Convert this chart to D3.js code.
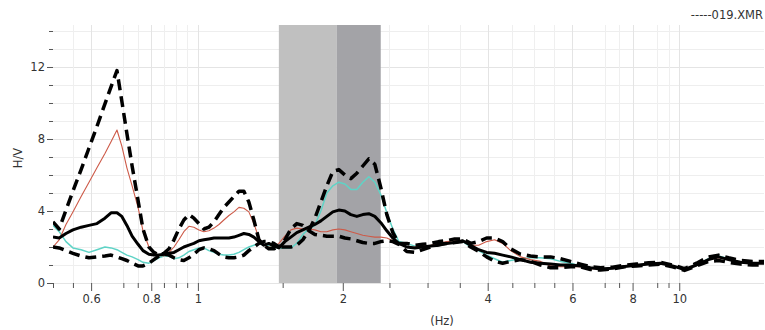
<!DOCTYPE html>
<html>
<head>
<meta charset="utf-8">
<script src="https://cdn.jsdelivr.net/npm/d3@7"></script>
<style>
  html, body { margin: 0; padding: 0; background: #fff; }
  svg { display: block; font-family: "DejaVu Sans", Verdana, sans-serif; }
</style>
</head>
<body>
<svg id="chart" width="765" height="330"></svg>
<script>
// ---------- data ----------
const freq = [0.50,0.515,0.532,0.550,0.572,0.594,0.617,0.641,0.660,0.679,0.695,0.712,0.730,0.751,0.769,0.791,0.810,0.830,0.850,0.871,0.892,0.913,0.935,0.958,0.981,1.005,1.029,1.054,1.080,1.106,1.132,1.160,1.188,1.217,1.246,1.276,1.307,1.339,1.371,1.404,1.438,1.473,1.516,1.560,1.605,1.652,1.700,1.750,1.801,1.853,1.907,1.962,2.020,2.078,2.139,2.201,2.265,2.331,2.399,2.469,2.541,2.615,2.716,2.822,2.932,3.046,3.165,3.288,3.416,3.549,3.687,3.831,3.980,4.135,4.296,4.463,4.682,4.910,5.151,5.403,5.667,5.944,6.235,6.540,6.860,7.270,7.700,8.155,8.637,9.147,9.685,10.257,10.863,11.504,12.067,12.657,13.405,14.196,15.0];

const hvMean = [2.55,2.5,2.75,2.95,3.1,3.2,3.3,3.6,3.9,3.9,3.7,3.2,2.6,2.15,1.8,1.6,1.55,1.55,1.6,1.65,1.7,1.85,2.0,2.1,2.2,2.35,2.4,2.45,2.5,2.5,2.5,2.5,2.55,2.65,2.75,2.7,2.55,2.3,2.1,2.2,2.05,1.95,2.3,2.55,2.8,2.95,3.1,3.25,3.45,3.7,3.95,4.05,4.0,3.8,3.7,3.8,3.85,3.7,3.35,2.9,2.5,2.2,2.0,1.95,2.0,2.05,2.1,2.2,2.25,2.35,2.1,1.85,1.7,1.65,1.55,1.45,1.3,1.15,1.1,1.05,1.0,1.0,0.95,0.85,0.78,0.82,0.92,0.98,1.05,1.1,0.95,0.75,1.0,1.3,1.45,1.3,1.15,1.1,1.1];

const hvPlus = [3.4,3.0,4.05,5.1,6.3,7.5,8.7,9.95,10.9,11.8,10.1,8.3,6.5,4.6,3.0,2.0,1.7,1.55,1.65,1.9,2.4,3.0,3.5,3.8,3.6,3.3,3.0,3.1,3.4,3.8,4.2,4.5,4.8,5.1,5.1,4.5,3.5,2.4,2.1,1.9,1.9,2.0,2.0,2.0,2.1,2.4,2.9,3.6,4.5,5.4,6.2,6.3,6.0,5.8,6.1,6.5,6.9,6.6,5.3,3.8,2.8,2.2,2.2,2.1,2.15,2.2,2.3,2.35,2.45,2.45,2.2,2.3,2.5,2.5,2.3,1.9,1.6,1.5,1.45,1.45,1.35,1.2,1.05,0.9,0.85,0.88,0.98,1.05,1.12,1.15,1.0,0.8,1.1,1.45,1.55,1.4,1.25,1.2,1.2];

const hvMinus = [2.0,1.95,1.8,1.65,1.5,1.4,1.45,1.5,1.55,1.45,1.35,1.25,1.1,0.95,0.95,1.1,1.3,1.5,1.6,1.55,1.4,1.3,1.25,1.4,1.6,1.85,1.95,1.9,1.8,1.6,1.45,1.4,1.4,1.45,1.55,1.8,2.0,2.2,2.3,2.3,2.2,2.0,2.4,3.0,3.3,3.2,2.9,2.7,2.65,2.6,2.6,2.6,2.5,2.45,2.35,2.25,2.2,2.2,2.3,2.35,2.3,2.15,1.75,1.7,1.85,2.0,2.15,2.2,2.25,2.3,2.0,1.75,1.45,1.2,1.1,1.2,1.3,1.2,1.0,0.85,0.85,0.9,0.9,0.75,0.72,0.78,0.9,0.95,1.0,1.05,0.9,0.7,0.95,1.2,1.25,1.15,1.05,1.0,1.0];

const hvRed = [2.0,2.4,3.25,3.95,4.8,5.6,6.4,7.2,7.85,8.5,7.6,6.4,5.4,4.2,2.9,2.0,1.65,1.55,1.5,1.7,2.0,2.4,2.85,3.15,3.1,2.95,2.85,2.9,3.05,3.25,3.5,3.75,3.95,4.2,4.15,3.95,3.3,2.5,2.1,2.0,2.0,2.2,2.6,2.95,3.05,3.0,3.0,2.95,2.85,2.85,2.95,3.0,2.95,2.85,2.75,2.65,2.6,2.55,2.55,2.5,2.35,2.2,2.0,2.0,2.05,2.1,2.2,2.3,2.35,2.3,2.1,2.1,2.3,2.4,2.2,1.8,1.45,1.3,1.2,0.95,0.9,0.9,0.9,0.8,0.78,0.82,0.92,0.98,1.05,1.1,0.95,0.75,1.0,1.3,1.4,1.3,1.15,1.1,1.1];

const hvCyan = [3.2,2.85,2.3,1.95,1.85,1.7,1.85,2.0,1.95,1.85,1.7,1.55,1.45,1.3,1.15,1.1,1.25,1.4,1.5,1.5,1.35,1.4,1.55,1.75,1.85,1.95,1.95,1.8,1.7,1.6,1.55,1.55,1.6,1.7,1.85,2.0,2.1,2.2,2.1,2.05,2.0,1.95,1.95,1.95,2.2,2.7,3.0,3.2,4.0,5.0,5.4,5.6,5.5,5.2,5.2,5.6,5.9,5.6,4.9,3.9,3.0,2.3,2.2,2.05,2.0,2.05,2.15,2.25,2.3,2.3,2.0,1.8,1.55,1.35,1.15,1.25,1.35,1.4,1.4,1.35,1.2,1.1,0.95,0.85,0.8,0.82,0.92,0.98,1.05,1.1,0.95,0.75,1.0,1.35,1.5,1.35,1.15,1.1,1.1];

const xMajorTicks = [0.6, 0.8, 1, 2, 4, 6, 8, 10];
const xMinorTicks = [0.5, 0.55, 0.7, 0.75, 0.85, 0.9, 0.95, 1.5, 2.5, 3, 3.5, 4.5, 5, 5.5, 7, 7.5, 9, 9.5];
const yMajorTicks = [0, 4, 8, 12];
const yMinorTicks = [1, 2, 3, 5, 6, 7, 9, 10, 11, 13, 14];
const bandStart = [1.473, 1.944];
const bandEnd = [1.944, 2.398];
const titleText = "-----019.XMR";
const xLabel = "(Hz)";
const yLabel = "H/V";

// ---------- layout ----------
const svg = d3.select("#chart");
const pLeft = 53, pRight = 764, pTop = 25, pBottom = 283;
const x = d3.scaleLog().domain([0.5, 15]).range([pLeft, pRight]);
const y = d3.scaleLinear().domain([0, 14.333]).range([pBottom, pTop]);

// gridlines
const grid = svg.append("g");
grid.selectAll("line.hg").data(yMajorTicks.concat(yMinorTicks)).join("line")
  .attr("x1", pLeft).attr("x2", pRight)
  .attr("y1", d => Math.round(y(d)) + 0.5).attr("y2", d => Math.round(y(d)) + 0.5)
  .attr("stroke", d => yMajorTicks.includes(d) ? "#e4e4e4" : "#eeeeee").attr("stroke-width", 1);
grid.selectAll("line.vg").data(xMajorTicks.concat(xMinorTicks).filter(d => d > 0.5)).join("line")
  .attr("x1", d => Math.round(x(d)) + 0.5).attr("x2", d => Math.round(x(d)) + 0.5)
  .attr("y1", pTop).attr("y2", pBottom)
  .attr("stroke", d => xMajorTicks.includes(d) ? "#e4e4e4" : "#efefef").attr("stroke-width", 1);

// bands
const bandColors = ["#c0c0c0", "#a3a3a7"];
svg.append("g").selectAll("rect").data(bandStart.map((s, i) => ({ s, e: bandEnd[i], c: bandColors[i] }))).join("rect")
  .attr("x", d => x(d.s)).attr("width", d => x(d.e) - x(d.s))
  .attr("y", pTop).attr("height", pBottom - pTop)
  .attr("fill", d => d.c);

// axes
const xAxisMajor = d3.axisBottom(x).tickValues(xMajorTicks).tickSize(8).tickPadding(4)
  .tickFormat(d => String(d));
const xAxisMinor = d3.axisBottom(x).tickValues(xMinorTicks).tickSize(5).tickFormat("");
const gxm = svg.append("g").attr("transform", `translate(0,${pBottom})`).call(xAxisMinor);
const gx = svg.append("g").attr("transform", `translate(0,${pBottom})`).call(xAxisMajor);
[gx, gxm].forEach(g => {
  g.select(".domain").remove();
  g.selectAll(".tick line").attr("stroke", "#555");
});
gx.selectAll("text").attr("fill", "#333").style("font-size", "11.5px").style("font-family", "DejaVu Sans, sans-serif");

const yAxisMajor = d3.axisLeft(y).tickValues(yMajorTicks).tickSize(6).tickPadding(2).tickFormat(d => String(d));
const yAxisMinor = d3.axisLeft(y).tickValues(yMinorTicks).tickSize(4).tickFormat("");
const gym = svg.append("g").attr("transform", `translate(${pLeft},0)`).call(yAxisMinor);
const gy = svg.append("g").attr("transform", `translate(${pLeft},0)`).call(yAxisMajor);
[gy, gym].forEach(g => {
  g.select(".domain").remove();
  g.selectAll(".tick line").attr("stroke", "#555");
});
gy.selectAll("text").attr("fill", "#333").style("font-size", "11.5px").style("font-family", "DejaVu Sans, sans-serif");

// curves
svg.append("clipPath").attr("id", "clip").append("rect")
  .attr("x", pLeft).attr("y", 0).attr("width", pRight - pLeft + 2).attr("height", pBottom + 2);
const plot = svg.append("g").attr("clip-path", "url(#clip)");
const line = vals => d3.line().x((d, i) => x(freq[i])).y(d => y(d))(vals);

plot.append("path").attr("d", line(hvCyan)).attr("fill", "none")
  .attr("stroke", "#5fd3c6").attr("stroke-width", 1.5).attr("stroke-linejoin", "round");
plot.append("path").attr("d", line(hvRed)).attr("fill", "none")
  .attr("stroke", "#cd5a48").attr("stroke-width", 1.1).attr("stroke-linejoin", "round");
plot.append("path").attr("d", line(hvMean)).attr("fill", "none")
  .attr("stroke", "#000").attr("stroke-width", 3).attr("stroke-linejoin", "round");
[hvPlus, hvMinus].forEach(v => {
  plot.append("path").attr("d", line(v)).attr("fill", "none")
    .attr("stroke", "#000").attr("stroke-width", 3.5)
    .attr("stroke-dasharray", "11,6").attr("stroke-linejoin", "round");
});

// texts
svg.append("text").attr("x", 763).attr("y", 19).attr("text-anchor", "end")
  .attr("fill", "#333").style("font-size", "11.5px").text(titleText);
svg.append("text").attr("x", 442).attr("y", 325).attr("text-anchor", "middle")
  .attr("fill", "#333").style("font-size", "11.5px").text(xLabel);
svg.append("text").attr("transform", "translate(22,158) rotate(-90)").attr("text-anchor", "middle")
  .attr("fill", "#333").style("font-size", "11.5px").text(yLabel);
</script>
</body>
</html>
